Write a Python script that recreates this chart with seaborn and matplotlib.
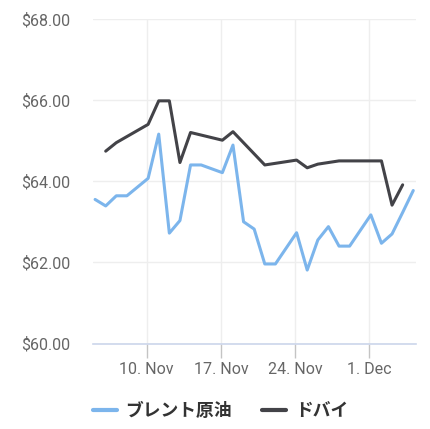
import matplotlib
matplotlib.use("Agg")
import matplotlib.pyplot as plt
from matplotlib.lines import Line2D
from matplotlib.font_manager import FontProperties
import seaborn as sns
import pandas as pd

brent_dates = ["2025-11-05", "2025-11-06", "2025-11-07", "2025-11-08", "2025-11-10",
               "2025-11-11", "2025-11-12", "2025-11-13", "2025-11-14", "2025-11-15",
               "2025-11-17", "2025-11-18", "2025-11-19", "2025-11-20", "2025-11-21",
               "2025-11-22", "2025-11-24", "2025-11-25", "2025-11-26", "2025-11-27",
               "2025-11-28", "2025-11-29", "2025-12-01", "2025-12-02", "2025-12-03",
               "2025-12-04", "2025-12-05"]
brent_values = [63.55, 63.39, 63.64, 63.64, 64.07,
                65.16, 62.72, 63.03, 64.40, 64.40,
                64.21, 64.89, 63.00, 62.82, 61.96,
                61.96, 62.73, 61.81, 62.55, 62.88,
                62.40, 62.40, 63.17, 62.47, 62.70,
                63.23, 63.77]

dubai_dates = ["2025-11-06", "2025-11-07", "2025-11-10", "2025-11-11", "2025-11-12",
               "2025-11-13", "2025-11-14", "2025-11-17", "2025-11-18", "2025-11-21",
               "2025-11-24", "2025-11-25", "2025-11-26", "2025-11-28", "2025-12-02",
               "2025-12-03", "2025-12-04"]
dubai_values = [64.74, 64.95, 65.40, 65.98, 65.98,
                64.46, 65.20, 65.01, 65.22, 64.40,
                64.52, 64.33, 64.42, 64.50, 64.50,
                63.41, 63.91]

series_names = ["ブレント原油", "ドバイ"]
series_colors = ["#7cb5ec", "#434348"]
y_ticks = [60, 62, 64, 66, 68]
x_tick_dates = ["2025-11-10", "2025-11-17", "2025-11-24", "2025-12-01"]
x_tick_labels = ["10. Nov", "17. Nov", "24. Nov", "1. Dec"]

sns.set_style("white")
plt.rcParams['font.family'] = ['Roboto', 'Noto Sans CJK JP', 'DejaVu Sans']

df = pd.concat([
    pd.DataFrame({"date": pd.to_datetime(brent_dates), "value": brent_values, "series": series_names[0]}),
    pd.DataFrame({"date": pd.to_datetime(dubai_dates), "value": dubai_values, "series": series_names[1]}),
])

fig = plt.figure(figsize=(4.31, 4.29), dpi=100)
ax = fig.add_axes([0.215, 0.1993, 0.75, 0.7567])

sns.lineplot(data=df, x="date", y="value", hue="series", hue_order=series_names,
             palette=series_colors, linewidth=2.2, ax=ax, legend=False, estimator=None)

ax.set_ylim(60, 68)
ax.set_yticks(y_ticks)
ax.set_yticklabels([f"${v:.2f}" for v in y_ticks])
left = pd.Timestamp("2025-11-05") - pd.Timedelta(hours=5.5)
right = pd.Timestamp("2025-12-05") + pd.Timedelta(hours=6)
ax.set_xlim(left, right)
ax.set_xticks(pd.to_datetime(x_tick_dates) - pd.Timedelta(hours=3.5))
ax.set_xticklabels(x_tick_labels)

ax.grid(True, axis="both", color="#eeeeee", linewidth=1)
ax.set_axisbelow(True)
for s in ["top", "right", "left"]:
    ax.spines[s].set_visible(False)
ax.spines["bottom"].set_visible(True)
ax.spines["bottom"].set_color("#ccd6eb")
ax.spines["bottom"].set_linewidth(1.2)
ax.spines["bottom"].set_zorder(5)
ax.tick_params(axis="x", bottom=True, length=10, width=1, color="#c4c4c4", labelcolor="#666666",
               labelsize=11.5, pad=3)
ax.tick_params(axis="y", left=False, length=0, labelsize=11.5, labelcolor="#666666", pad=16)
ax.set_xlabel("")
ax.set_ylabel("")

handles = [Line2D([0], [0], color=c, linewidth=3.0) for c in series_colors]
legend_font = FontProperties(family=["Noto Sans CJK JP", "DejaVu Sans"], weight="bold", size=12.8)
fig.legend(handles, series_names, loc="center", bbox_to_anchor=(0.5 + 5 / 431, 1 - 411 / 429),
           ncol=2, frameon=False, handlelength=1.35, handletextpad=0.5, columnspacing=1.7,
           prop=legend_font, labelcolor="#333333")

fig.savefig("out.png", dpi=100, facecolor="white")
